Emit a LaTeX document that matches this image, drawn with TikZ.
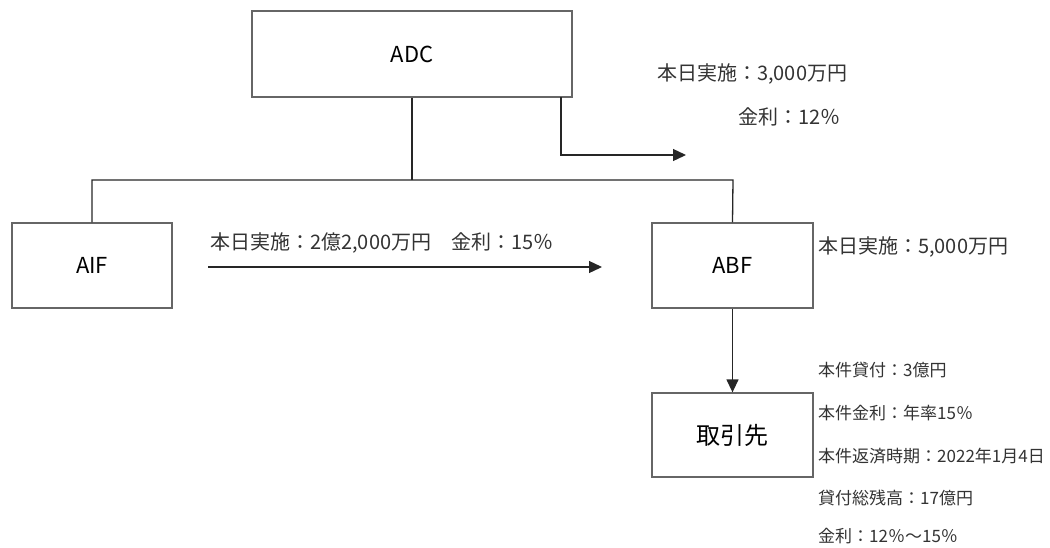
\documentclass[tikz,border=0pt]{standalone}
\usepackage{fontspec}
\setmainfont{Noto Sans CJK JP}
\usetikzlibrary{arrows.meta}
\begin{document}
\begin{tikzpicture}[x=1pt,y=-1pt,
  box/.style={draw=black!60,line width=1.3pt,fill=white,inner sep=0pt,font=\fontsize{22}{26}\selectfont},
  conn/.style={draw=black!85,line width=1.3pt},
  arr/.style={conn,-{Triangle[length=13pt,width=12pt]}},
  lbl/.style={inner sep=0pt,anchor=west,font=\fontsize{20}{24}\selectfont,text=black!80},
  slbl/.style={inner sep=0pt,anchor=west,font=\fontsize{17}{20}\selectfont,text=black!80}]
\useasboundingbox (0,0) rectangle (1050,547);
\node[box,minimum width=320pt,minimum height=86pt] (adc) at (412,54) {ADC};
\node[box,minimum width=160pt,minimum height=85pt] (aif) at (92,265.5) {AIF};
\node[box,minimum width=161pt,minimum height=85pt] (abf) at (732.5,265.5) {ABF};
\node[box,minimum width=161pt,minimum height=84pt,font=\fontsize{24}{28}\selectfont] (tori) at (732.5,435) {取引先};
\coordinate (j) at (412,180);
\coordinate (jl) at (92,180);
\coordinate (jr) at (733,180);
\draw[conn] (adc.south) -- (j);
\draw[conn] (aif.north) -- (jl) -- (jr) -- (abf.north);
\coordinate (s1) at (561,97);
\coordinate (s2) at (561,155);
\coordinate (s3) at (686,155);
\draw[arr] (s1) -- (s2) -- (s3);
\coordinate (h1) at (208,267);
\coordinate (h2) at (602,267);
\draw[arr] (h1) -- (h2);
\draw[arr] (abf.south) -- (tori.north);
\node[lbl] (t1) at (657,74) {本日実施：3,000万円};
\node[lbl] (t2) at (738,117) {金利：12％};
\node[lbl] (t3) at (210,243) {本日実施：2億2,000万円　金利：15％};
\node[lbl] (t4) at (818,247) {本日実施：5,000万円};
\node[slbl] (b1) at (818,370) {本件貸付：3億円};
\node[slbl] (b2) at (818,413) {本件金利：年率15％};
\node[slbl] (b3) at (818,456) {本件返済時期：2022年1月4日};
\node[slbl] (b4) at (818,498) {貸付総残高：17億円};
\node[slbl] (b5) at (818,536) {金利：12％～15％};
\end{tikzpicture}
\end{document}
